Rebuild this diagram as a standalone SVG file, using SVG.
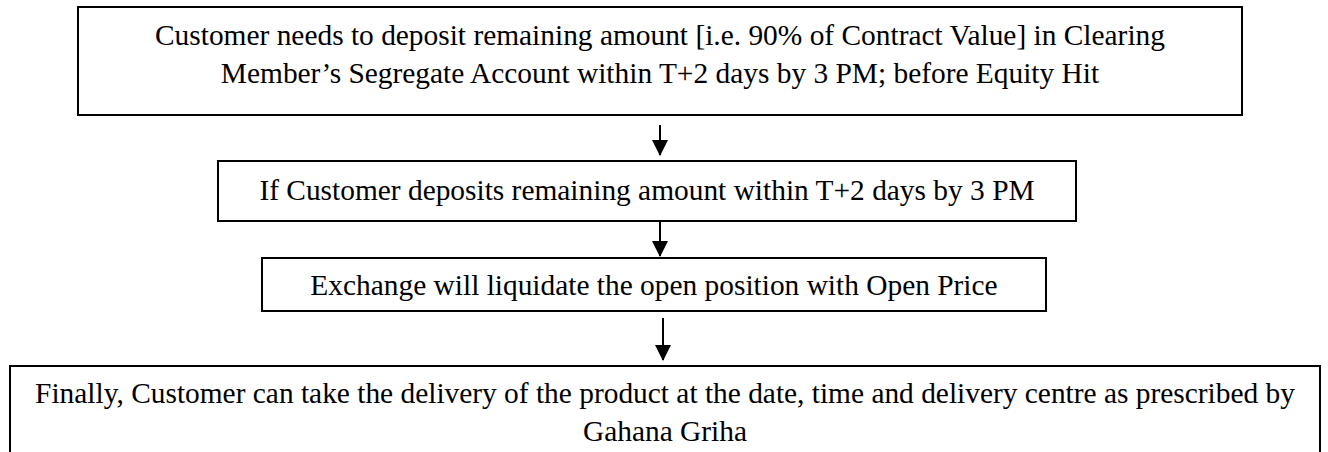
<svg xmlns="http://www.w3.org/2000/svg" width="1328" height="452" viewBox="0 0 1328 452">
<style>
.box{fill:#fff;stroke:#000;stroke-width:2}
.t{font-family:"Liberation Serif","Times New Roman",serif;font-size:29.4px;fill:#000;text-anchor:middle}
.c{stroke:#000;stroke-width:2;fill:none}
</style>
<defs>
<marker id="ah" markerWidth="8" markerHeight="8" refX="7.5" refY="4" orient="auto" markerUnits="strokeWidth">
<path d="M0,0 L8,4 L0,8 Z" fill="#000"/>
</marker>
</defs>
<rect width="1328" height="452" fill="#fff"/>
<g id="n1">
<rect class="box" x="78" y="7" width="1164" height="108"/>
<text class="t" x="660" y="45">Customer needs to deposit remaining amount [i.e. 90% of Contract Value] in Clearing</text>
<text class="t" x="660" y="83">Member’s Segregate Account within T+2 days by 3 PM; before Equity Hit</text>
</g>
<g id="n2">
<rect class="box" x="218" y="161" width="858" height="60"/>
<text class="t" x="647" y="200">If Customer deposits remaining amount within T+2 days by 3 PM</text>
</g>
<g id="n3">
<rect class="box" x="262" y="258" width="784" height="53"/>
<text class="t" x="654" y="295">Exchange will liquidate the open position with Open Price</text>
</g>
<g id="n4">
<rect class="box" x="10" y="366" width="1310" height="100"/>
<text class="t" x="665" y="403">Finally, Customer can take the delivery of the product at the date, time and delivery centre as prescribed by</text>
<text class="t" x="665" y="441">Gahana Griha</text>
</g>
<g id="connectors">
<line class="c" x1="660" y1="125" x2="660" y2="155" marker-end="url(#ah)"/>
<line class="c" x1="660" y1="221" x2="660" y2="256" marker-end="url(#ah)"/>
<line class="c" x1="663" y1="318" x2="663" y2="360" marker-end="url(#ah)"/>
</g>
</svg>
